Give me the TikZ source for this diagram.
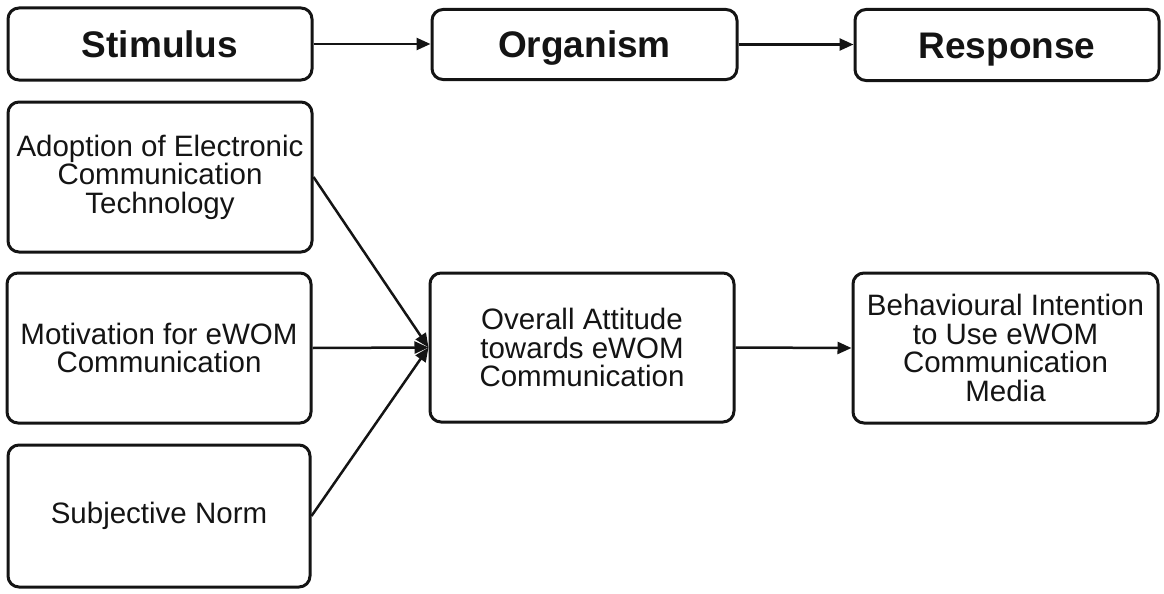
\documentclass[tikz,border=0pt]{standalone}
\usepackage{fontspec}
\setmainfont{Liberation Sans}
\usetikzlibrary{arrows.meta}
\definecolor{ink}{HTML}{141414}
\begin{document}
\begin{tikzpicture}[x=1pt,y=-1pt,
  box/.style={draw=ink,line width=3pt,rounded corners=11pt,inner sep=0pt,
    align=center,text=ink,font=\fontsize{29.5}{28.5}\selectfont},
  headbox/.style={box,font=\fontsize{37}{40}\selectfont\bfseries,
    text height=27pt,text depth=0pt},
  link/.style={draw=ink,line width=2.5pt},
  flow/.style={link,-{Triangle[length=14pt,width=12pt]}}]
\useasboundingbox (0,0) rectangle (1164,594);
% header row
\node[headbox,minimum width=304pt,minimum height=72pt] (stim) at (160,44) {Stimulus};
\node[headbox,minimum width=305pt,minimum height=70pt] (org) at (584.5,44.5) {Organism};
\node[headbox,minimum width=304pt,minimum height=71pt] (resp) at (1007,45) {Response};
% stimulus column
\node[box,minimum width=304pt,minimum height=150pt] (adopt) at (160,177)
  {Adoption of Electronic\\Communication\\Technology};
\node[box,minimum width=304pt,minimum height=150pt] (motiv) at (159,348)
  {Motivation for eWOM\\Communication};
\node[box,minimum width=302pt,minimum height=142pt] (norm) at (159,516)
  {Subjective Norm};
% organism and response
\node[box,minimum width=304pt,minimum height=149pt] (att) at (582,347.5)
  {Overall Attitude\\towards eWOM\\Communication};
\node[box,minimum width=305pt,minimum height=150pt] (intent) at (1005.5,348)
  {Behavioural Intention\\to Use eWOM\\Communication\\Media};
% connectors
\draw[flow] (stim.east) -- (org.west |- stim.east);
\draw[flow] (org.east) -- (resp.west |- org.east);
\draw[flow] (adopt.east) -- (att.west);
\draw[flow] (motiv.east) -- (att.west);
\draw[flow] (norm.east) -- (att.west);
\draw[flow] (att.east) -- (intent.west);
\end{tikzpicture}
\end{document}
